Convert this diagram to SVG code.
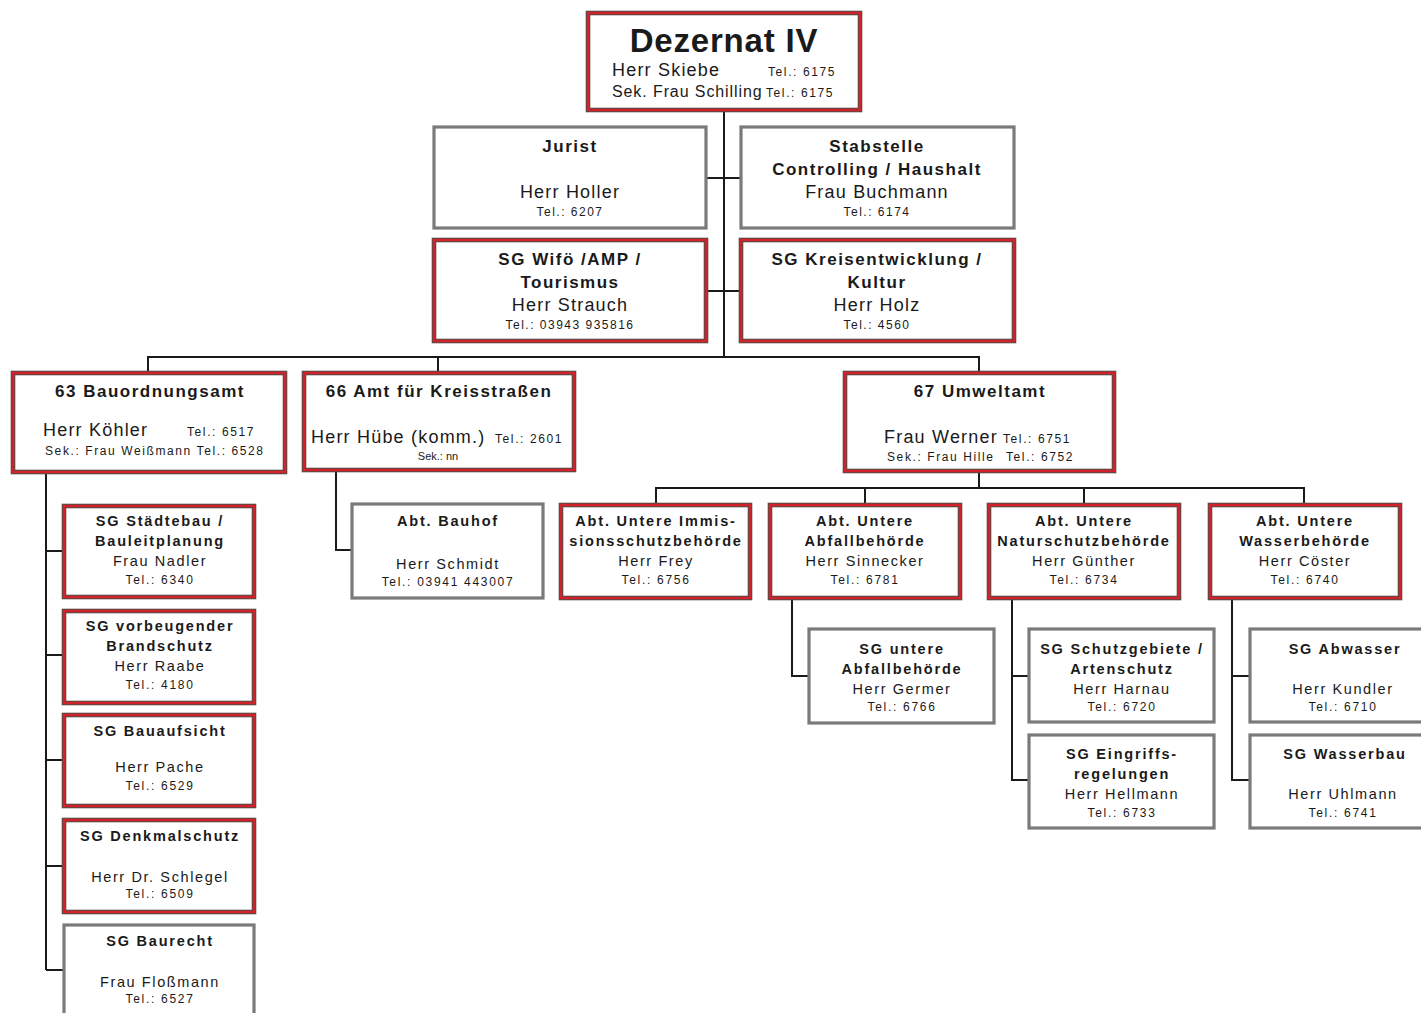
<svg xmlns="http://www.w3.org/2000/svg" width="1421" height="1013" viewBox="0 0 1421 1013">
<style>
text{font-family:"Liberation Sans",Arial,sans-serif;fill:#1a1a1a}
.ro{fill:#fff;stroke:#5a4a4a;stroke-width:4.6}
.ri{fill:none;stroke:#d2232a;stroke-width:2.4}
.g{fill:#fff;stroke:#7a7a7a;stroke-width:3.2}
.c{fill:none;stroke:#1a1a1a;stroke-width:2}
.t1{font-size:17px;font-weight:bold;letter-spacing:1.5px;text-anchor:middle}
.n1{font-size:18px;letter-spacing:1.2px}
.n1m{font-size:18px;letter-spacing:1.2px;text-anchor:middle}
.tel{font-size:12px;letter-spacing:1.6px}
.telm{font-size:12px;letter-spacing:1.5px;text-anchor:middle}
.t2{font-size:14.5px;font-weight:bold;letter-spacing:1.8px;text-anchor:middle}
.n2{font-size:14.5px;letter-spacing:1.6px;text-anchor:middle}
.tl2{font-size:12px;letter-spacing:1.7px;text-anchor:middle}
</style>
<rect width="1421" height="1013" fill="#fff"/>
<g id="connectors">
<path class="c" d="M724 110V357M706 178H741M706 291H741M148 373V357H979V373M438 357V373"/>
<path class="c" d="M46 472V970M46 551H64M46 655H64M46 760H64M46 866H64M46 970H64"/>
<path class="c" d="M336 470V550H352"/>
<path class="c" d="M979 471V488M656 505V488H1304V505M865 488V505M1084 488V505"/>
<path class="c" d="M792 598V676H809M1012 598V780H1029M1012 676H1029M1232 598V780H1250M1232 676H1250"/>
</g>
<g id="dezernat">
<rect class="ro" x="588" y="13" width="272" height="97"/><rect class="ri" x="588" y="13" width="272" height="97"/>
<text x="724" y="52" font-size="33" font-weight="bold" text-anchor="middle" letter-spacing="0.8">Dezernat IV</text>
<text class="n1" x="612" y="76">Herr Skiebe</text><text class="tel" x="768" y="76">Tel.: 6175</text>
<text x="612" y="97" font-size="16" letter-spacing="0.9">Sek. Frau Schilling</text><text class="tel" x="766" y="97">Tel.: 6175</text>
</g>
<g id="jurist">
<rect class="g" x="434" y="127" width="272" height="101"/>
<text class="t1" x="570" y="152">Jurist</text>
<text class="n1m" x="570" y="198">Herr Holler</text>
<text class="telm" x="570" y="216">Tel.: 6207</text>
</g>
<g id="stabstelle">
<rect class="g" x="741" y="127" width="273" height="101"/>
<text class="t1" x="877" y="152">Stabstelle</text>
<text class="t1" x="877" y="175">Controlling / Haushalt</text>
<text class="n1m" x="877" y="198">Frau Buchmann</text>
<text class="telm" x="877" y="216">Tel.: 6174</text>
</g>
<g id="sg-wifo">
<rect class="ro" x="434" y="240" width="272" height="101"/><rect class="ri" x="434" y="240" width="272" height="101"/>
<text class="t1" x="570" y="265">SG Wifö /AMP /</text>
<text class="t1" x="570" y="288">Tourismus</text>
<text class="n1m" x="570" y="311">Herr Strauch</text>
<text class="telm" x="570" y="329">Tel.: 03943 935816</text>
</g>
<g id="sg-kreis">
<rect class="ro" x="741" y="240" width="273" height="101"/><rect class="ri" x="741" y="240" width="273" height="101"/>
<text class="t1" x="877" y="265">SG Kreisentwicklung /</text>
<text class="t1" x="877" y="288">Kultur</text>
<text class="n1m" x="877" y="311">Herr Holz</text>
<text class="telm" x="877" y="329">Tel.: 4560</text>
</g>
<g id="amt63">
<rect class="ro" x="13" y="373" width="272" height="99"/><rect class="ri" x="13" y="373" width="272" height="99"/>
<text class="t1" x="150" y="397" letter-spacing="1.8">63 Bauordnungsamt</text>
<text class="n1" x="43" y="436">Herr Köhler</text><text class="tel" x="187" y="436">Tel.: 6517</text>
<text class="tel" x="45" y="455" letter-spacing="0.8">Sek.: Frau Weißmann Tel.: 6528</text>
</g>
<g id="amt66">
<rect class="ro" x="304" y="373" width="270" height="97"/><rect class="ri" x="304" y="373" width="270" height="97"/>
<text class="t1" x="439" y="397" letter-spacing="1.7">66 Amt für Kreisstraßen</text>
<text class="n1" x="311" y="443" letter-spacing="1.4">Herr Hübe (komm.)</text><text class="tel" x="495" y="443" letter-spacing="1">Tel.: 2601</text>
<text x="438" y="460" font-size="11" text-anchor="middle">Sek.: nn</text>
</g>
<g id="amt67">
<rect class="ro" x="845" y="373" width="269" height="98"/><rect class="ri" x="845" y="373" width="269" height="98"/>
<text class="t1" x="980" y="397" letter-spacing="1.7">67  Umweltamt</text>
<text class="n1" x="884" y="443">Frau Werner</text><text class="tel" x="1003" y="443">Tel.: 6751</text>
<text class="tel" x="887" y="461" letter-spacing="0.9">Sek.: Frau Hille</text><text class="tel" x="1006" y="461">Tel.: 6752</text>
</g>
<g id="sg-staedtebau">
<rect class="ro" x="64" y="506" width="190" height="91"/><rect class="ri" x="64" y="506" width="190" height="91"/>
<text class="t2" x="160" y="526">SG Städtebau /</text><text class="t2" x="160" y="546">Bauleitplanung</text>
<text class="n2" x="160" y="566">Frau Nadler</text><text class="tl2" x="160" y="584">Tel.: 6340</text>
</g>
<g id="sg-brandschutz">
<rect class="ro" x="64" y="611" width="190" height="92"/><rect class="ri" x="64" y="611" width="190" height="92"/>
<text class="t2" x="160" y="631">SG vorbeugender</text><text class="t2" x="160" y="651">Brandschutz</text>
<text class="n2" x="160" y="671">Herr Raabe</text><text class="tl2" x="160" y="689">Tel.: 4180</text>
</g>
<g id="sg-bauaufsicht">
<rect class="ro" x="64" y="715" width="190" height="91"/><rect class="ri" x="64" y="715" width="190" height="91"/>
<text class="t2" x="160" y="736">SG Bauaufsicht</text>
<text class="n2" x="160" y="772">Herr Pache</text><text class="tl2" x="160" y="790">Tel.: 6529</text>
</g>
<g id="sg-denkmal">
<rect class="ro" x="64" y="820" width="190" height="92"/><rect class="ri" x="64" y="820" width="190" height="92"/>
<text class="t2" x="160" y="841">SG Denkmalschutz</text>
<text class="n2" x="160" y="882">Herr Dr. Schlegel</text><text class="tl2" x="160" y="898">Tel.: 6509</text>
</g>
<g id="sg-baurecht">
<rect class="g" x="64" y="925" width="190" height="95"/>
<text class="t2" x="160" y="946">SG Baurecht</text>
<text class="n2" x="160" y="987">Frau Floßmann</text><text class="tl2" x="160" y="1003">Tel.: 6527</text>
</g>
<g id="abt-bauhof">
<rect class="g" x="352" y="504" width="191" height="94"/>
<text class="t2" x="448" y="526">Abt. Bauhof</text>
<text class="n2" x="448" y="569">Herr Schmidt</text><text class="tl2" x="448" y="586" letter-spacing="1.2">Tel.: 03941 443007</text>
</g>
<g id="abt-immission">
<rect class="ro" x="561" y="505" width="189" height="93"/><rect class="ri" x="561" y="505" width="189" height="93"/>
<text class="t2" x="656" y="526">Abt. Untere Immis-</text><text class="t2" x="656" y="546">sionsschutzbehörde</text>
<text class="n2" x="656" y="566">Herr Frey</text><text class="tl2" x="656" y="584">Tel.: 6756</text>
</g>
<g id="abt-abfall">
<rect class="ro" x="770" y="505" width="190" height="93"/><rect class="ri" x="770" y="505" width="190" height="93"/>
<text class="t2" x="865" y="526">Abt. Untere</text><text class="t2" x="865" y="546">Abfallbehörde</text>
<text class="n2" x="865" y="566">Herr Sinnecker</text><text class="tl2" x="865" y="584">Tel.: 6781</text>
</g>
<g id="abt-natur">
<rect class="ro" x="989" y="505" width="190" height="93"/><rect class="ri" x="989" y="505" width="190" height="93"/>
<text class="t2" x="1084" y="526">Abt. Untere</text><text class="t2" x="1084" y="546" letter-spacing="1.4">Naturschutzbehörde</text>
<text class="n2" x="1084" y="566">Herr Günther</text><text class="tl2" x="1084" y="584">Tel.: 6734</text>
</g>
<g id="abt-wasser">
<rect class="ro" x="1210" y="505" width="190" height="93"/><rect class="ri" x="1210" y="505" width="190" height="93"/>
<text class="t2" x="1305" y="526">Abt. Untere</text><text class="t2" x="1305" y="546">Wasserbehörde</text>
<text class="n2" x="1305" y="566">Herr Cöster</text><text class="tl2" x="1305" y="584">Tel.: 6740</text>
</g>
<g id="sg-untere-abfall">
<rect class="g" x="809" y="629" width="185" height="94"/>
<text class="t2" x="902" y="654">SG untere</text><text class="t2" x="902" y="674">Abfallbehörde</text>
<text class="n2" x="902" y="694">Herr Germer</text><text class="tl2" x="902" y="711">Tel.: 6766</text>
</g>
<g id="sg-schutzgebiete">
<rect class="g" x="1029" y="629" width="185" height="93"/>
<text class="t2" x="1122" y="654" letter-spacing="1.4">SG Schutzgebiete /</text><text class="t2" x="1122" y="674">Artenschutz</text>
<text class="n2" x="1122" y="694">Herr Harnau</text><text class="tl2" x="1122" y="711">Tel.: 6720</text>
</g>
<g id="sg-eingriffs">
<rect class="g" x="1029" y="735" width="185" height="93"/>
<text class="t2" x="1122" y="759">SG Eingriffs-</text><text class="t2" x="1122" y="779">regelungen</text>
<text class="n2" x="1122" y="799">Herr Hellmann</text><text class="tl2" x="1122" y="817">Tel.: 6733</text>
</g>
<g id="sg-abwasser">
<rect class="g" x="1250" y="629" width="174" height="93"/>
<text class="t2" x="1345" y="654">SG Abwasser</text>
<text class="n2" x="1343" y="694">Herr Kundler</text><text class="tl2" x="1343" y="711">Tel.: 6710</text>
</g>
<g id="sg-wasserbau">
<rect class="g" x="1250" y="735" width="174" height="93"/>
<text class="t2" x="1345" y="759">SG Wasserbau</text>
<text class="n2" x="1343" y="799">Herr Uhlmann</text><text class="tl2" x="1343" y="817">Tel.: 6741</text>
</g>
</svg>
